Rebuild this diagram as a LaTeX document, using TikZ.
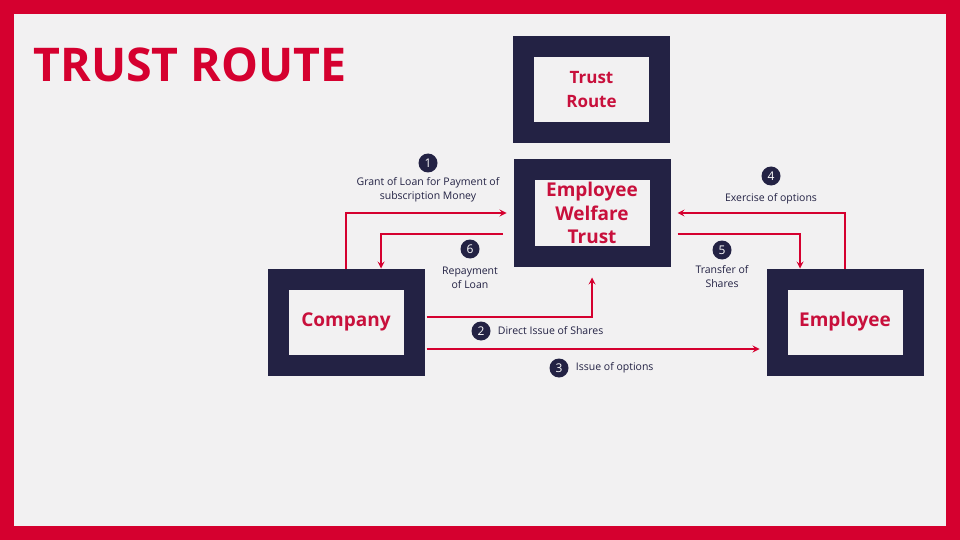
\documentclass[tikz,border=0pt]{standalone}
\usepackage{fontspec}
\setmainfont{Open Sans}
\usepackage{tikz}
\usetikzlibrary{arrows, positioning}
\definecolor{trustred}{HTML}{D5002F}
\definecolor{boxred}{HTML}{C8103C}
\definecolor{navy}{HTML}{232244}
\definecolor{paper}{HTML}{F2F1F2}
\tikzstyle{entity} = [rectangle, draw=navy, line width=21pt, fill=paper, minimum width=136pt, minimum height=86pt, text centered, align=center, text=boxred, font=\bfseries\fontsize{19}{23.5}\selectfont]
\tikzstyle{badge} = [circle, fill=navy, text=white, minimum size=19pt, inner sep=0pt, font=\fontsize{12}{12}\selectfont]
\tikzstyle{note} = [text=navy, align=center, inner sep=1pt, font=\fontsize{10.5}{14}\selectfont]
\tikzstyle{arrow} = [trustred, line width=2pt, ->, >=stealth]

\begin{document}
\begin{tikzpicture}[x=1pt, y=-1pt]

% frame
\fill[trustred] (0,0) rectangle (960,540);
\fill[paper] (14,14) rectangle (946,526);
\useasboundingbox (0,0) rectangle (960,540);

\node (title) [anchor=base west, text=trustred, font=\bfseries\fontsize{46.5}{50}\selectfont] at (30,82) {TRUST ROUTE};

\node (trust) [entity, font=\bfseries\fontsize{17}{24}\selectfont] at (591.5,89.5) {Trust\\Route};
\node (ewt) [entity] at (592,213) {Employee\\Welfare\\Trust};
\node (company) [entity] at (346,322) {Company};
\node (employee) [entity] at (845,322) {Employee};

\node (b1) [badge] at (428,163) {1};
\node (l1) [note, below=4pt of b1] {Grant of Loan for Payment of\\subscription Money};
\node (b6) [badge] at (470,249) {6};
\node (l6) [note, below=7pt of b6] {Repayment\\of Loan};
\node (b2) [badge] at (481,331) {2};
\node (l2) [note, right=6pt of b2] {Direct Issue of Shares};
\node (b3) [badge] at (559,368) {3};
\node (l3) [note, right=6pt of b3] {Issue of options};
\node (b4) [badge] at (771,176) {4};
\node (l4) [note, below=7pt of b4] {Exercise of options};
\node (b5) [badge] at (722,250) {5};
\node (l5) [note, below=5pt of b5] {Transfer of\\Shares};

\draw [arrow] (company.north) |- ([xshift=-7pt]ewt.west);
\draw [arrow] ([xshift=-11pt,yshift=-21pt]ewt.west) -| ([xshift=35pt]company.north);
\draw [arrow] ([xshift=2pt,yshift=5pt]company.east) -| ([yshift=-11pt]ewt.south);
\draw [arrow] ([xshift=2pt,yshift=-27pt]company.east) -- ([xshift=-7pt,yshift=-27pt]employee.west);
\draw [arrow] (employee.north) |- ([xshift=7pt]ewt.east);
\draw [arrow] ([xshift=7pt,yshift=-21pt]ewt.east) -| ([xshift=-45pt]employee.north);

\end{tikzpicture}
\end{document}
